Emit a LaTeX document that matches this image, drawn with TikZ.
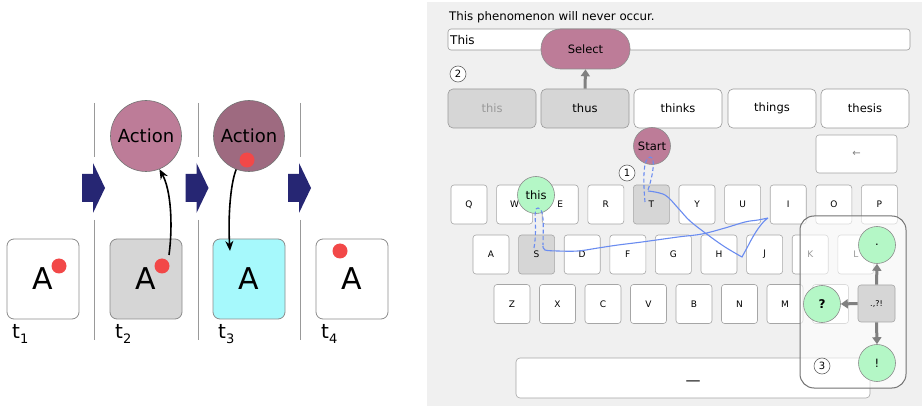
\documentclass[tikz,border=0pt]{standalone}
\usepackage{fontspec}
\setmainfont{DejaVu Sans}
\usetikzlibrary{arrows.meta}
\definecolor{mauve}{HTML}{BD7C98}
\definecolor{mauvedark}{HTML}{9E6A80}
\definecolor{dotred}{HTML}{F24848}
\definecolor{navy}{HTML}{262673}
\definecolor{cyanbox}{HTML}{A6F9FC}
\definecolor{boxgrey}{HTML}{D6D6D6}
\definecolor{panelbg}{HTML}{F0F0F0}
\definecolor{mint}{HTML}{B4F7C6}
\definecolor{scribble}{HTML}{6A8CF0}
\newcommand{\fsz}[1]{\fontsize{#1}{#1}\selectfont}
\begin{document}
\begin{tikzpicture}[x=1pt,y=-1pt,
  statebox/.style={draw=black!45, line width=0.8pt, rounded corners=7pt, minimum width=72pt, minimum height=80pt, inner sep=0, font=\fsz{30}},
  reddot/.style={circle, fill=dotred, minimum size=15pt, inner sep=0},
  actioncirc/.style={circle, draw=black!55, line width=0.6pt, minimum size=71pt, inner sep=0, font=\fsz{18}},
  sepline/.style={draw=black!40, line width=0.8pt},
  navyarrow/.style={fill=navy},
  blackarrow/.style={draw=black, line width=1.6pt, -{Stealth[length=10pt,width=8pt]}},
  tlabel/.style={anchor=base west, inner sep=0, font=\fsz{20}},
  keybox/.style={draw=black!35, line width=0.6pt, rounded corners=3pt, minimum width=36pt, minimum height=39pt, inner sep=0, font=\fsz{9}},
  suggbox/.style={draw=black!40, line width=0.6pt, rounded corners=5pt, minimum width=88pt, minimum height=39pt, inner sep=0, font=\fsz{11.5}},
  bubble/.style={circle, draw=black!45, line width=0.6pt, minimum size=37pt, inner sep=0, font=\fsz{11.5}},
  numcirc/.style={circle, draw=black!60, line width=0.6pt, fill=white, minimum size=16pt, inner sep=0, font=\fsz{10}},
  grayarrow/.style={draw=black!50, line width=3pt, -{Triangle[length=7pt,width=9pt]}},
  bluepath/.style={draw=scribble, line width=1.1pt},
  bluedash/.style={draw=scribble, line width=1.1pt, dashed, dash pattern=on 4pt off 2.5pt}
]
\useasboundingbox (0,0) rectangle (922,406);
\fill[white] (0,0) rectangle (922,406);

% ---------------- left panel ----------------
\foreach \x in {94,198,300} {
  \draw[sepline] (\x,103) -- (\x,157);
  \draw[sepline] (\x,220) -- (\x,340);
}
\foreach \dx in {0,103.5,206} {
  \fill[navyarrow] ({82+\dx},174) -- ({93+\dx},174) -- ({93+\dx},163) -- ({105+\dx},188)
     -- ({93+\dx},213) -- ({93+\dx},202) -- ({82+\dx},202) -- cycle;
}
\node[statebox, fill=white]   (b1) at (43,279)  {A};
\node[statebox, fill=boxgrey] (b2) at (146,279) {A};
\node[statebox, fill=cyanbox] (b3) at (249,279) {A};
\node[statebox, fill=white]   (b4) at (352,279) {A};
\node[reddot] (d1) at (59,266) {};
\node[reddot] (d2) at (162,266) {};
\node[reddot] (d4) at (340,251) {};
\node[actioncirc, fill=mauve] (a1) at (146,136) {Action};
\node[actioncirc, fill=mauvedark] (a2) at (249,136) {Action};
\node[reddot] (d3) at (247,160) {};
\coordinate (s1) at (169,255);
\coordinate (e2) at (230,251);
\draw[blackarrow] (s1) .. controls (173,225) and (171,190) .. (a1.-68);
\draw[blackarrow] (a2.-111) .. controls (230,185) and (228,220) .. (e2);
\node[tlabel] (t1) at (12,339) {t\raisebox{-5pt}{\fsz{13}1}};
\node[tlabel] (t2) at (115,339) {t\raisebox{-5pt}{\fsz{13}2}};
\node[tlabel] (t3) at (218,339) {t\raisebox{-5pt}{\fsz{13}3}};
\node[tlabel] (t4) at (321,339) {t\raisebox{-5pt}{\fsz{13}4}};

% ---------------- right panel ----------------
\fill[panelbg] (427,2) rectangle (922,406);
\node[anchor=base west, inner sep=0, font=\fsz{11.8}] (title) at (449,21) {This phenomenon will never occur.};
\node[draw=black!40, line width=0.6pt, fill=white, rounded corners=3pt, minimum width=462pt, minimum height=21pt, inner sep=0] (input) at (679,39.5) {};
\node[anchor=west, inner sep=0, font=\fsz{12}] (intext) at (450,40) {This};

\node[suggbox, fill=boxgrey, text=black!40] (sg1) at (492,108.5) {this};
\node[suggbox, fill=boxgrey] (sg2) at (585,108.5) {thus};
\node[suggbox, fill=white] (sg3) at (678,108.5) {thinks};
\node[suggbox, fill=white] (sg4) at (772,108.5) {things};
\node[suggbox, fill=white] (sg5) at (865,108.5) {thesis};
\node[draw=black!45, line width=0.6pt, fill=mauve, rounded corners=19.5pt, minimum width=89pt, minimum height=40pt, inner sep=0, font=\fsz{11.5}] (select) at (585.5,49) {Select};
\draw[grayarrow] (sg2.north) -- (select.south);
\node[numcirc] (n2) at (458,74) {2};

\node[keybox, fill=white, minimum width=81pt, minimum height=38pt, font=\fsz{10}, text=black!50] (bksp) at (856.5,154) {←};

\foreach \l/\f [count=\i from 0] in {Q/white,W/white,E/white,R/white,T/boxgrey,Y/white,U/white,I/white,O/white,P/white}
  \node[keybox, fill=\f] (k\l) at ({469+45.6*\i},204.5) {\l};
\foreach \l/\f [count=\i from 0] in {A/white,S/boxgrey,D/white,F/white,G/white,H/white,J/white,K/white,L/white}
  \node[keybox, fill=\f] (k\l) at ({491+45.6*\i},254.5) {\l};
\foreach \l [count=\i from 0] in {Z,X,C,V,B,N,M}
  \node[keybox, fill=white] (k\l) at ({512+45.5*\i},304) {\l};
\node[keybox, fill=white] (kcomma) at (830.5,304) {};
\node[keybox, fill=white, minimum width=354pt, minimum height=40pt, rounded corners=4pt] (space) at (693,378) {};
\node[inner sep=0, font=\fsz{15}] (spacelbl) at (693,383) {—};

\node[draw=black!55, line width=1pt, fill=white, fill opacity=0.6, rounded corners=14pt, minimum width=106pt, minimum height=172pt, inner sep=0] (pnl) at (853,302) {};

\node[bubble, fill=mauve] (start) at (652,146) {Start};
\node[bubble, fill=mint] (thisb) at (536,195) {this};
\node[numcirc] (n1) at (627,173) {1};

\draw[bluedash] (645,202) .. controls (643,180) and (643,158) .. (650,157) .. controls (656,157) and (653,175) .. (648,190);
\draw[bluepath] plot[smooth, tension=0.6] coordinates {(648,191) (665,195) (678,208) (690,221) (708,235) (725,247) (742,257)}
  -- (748,246) .. controls (755,232) and (762,222) .. (768,218)
  plot[smooth, tension=0.6] coordinates {(768,218) (758,220) (745,222) (725,228) (702,234) (678,237) (642,242) (618,245) (598,248) (578,251) (558,251) (545,250) (543,246)};
\draw[bluedash] (534,248) .. controls (538,225) and (532,208) .. (538,208) .. controls (545,208) and (543,230) .. (543,245);

\node[keybox, fill=boxgrey, minimum width=37pt, minimum height=37pt, font=\fsz{8}] (punct) at (876.5,303.5) {.,?!};
\node[bubble, fill=mint] (pdot) at (877,245) {.};
\node[bubble, fill=mint, font=\bfseries\fsz{12}] (pq) at (822,304) {?};
\node[bubble, fill=mint] (pex) at (877,363) {!};
\draw[grayarrow] (punct.north) -- (pdot.south);
\draw[grayarrow] (punct.west) -- (pq.east);
\draw[grayarrow] (punct.south) -- (pex.north);
\node[numcirc] (n3) at (822,366) {3};
\end{tikzpicture}
\end{document}
